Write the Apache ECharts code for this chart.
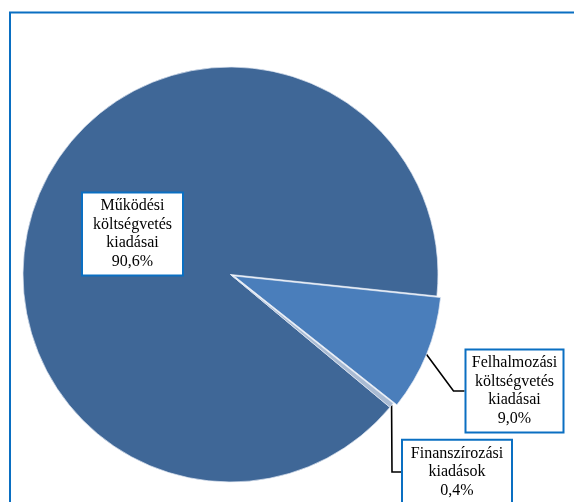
<!DOCTYPE html>
<html>
<head>
<meta charset="utf-8">
<script src="https://cdn.jsdelivr.net/npm/echarts@6/dist/echarts.min.js"></script>
<style>
html,body{margin:0;padding:0;background:#fff;}
#c{width:574px;height:502px;}
</style>
</head>
<body>
<div id="c"></div>
<script>
const categories = ['Működési\nköltségvetés\nkiadásai', 'Felhalmozási\nköltségvetés\nkiadásai', 'Finanszírozási\nkiadások'];
const values = [90.6, 9.0, 0.4];
const colors = ['#3F6797', '#4A7EBB', '#A9BBD3'];
const explodedIndex = 1;

const labelCenters = [[132.5, 234], [514.5, 391], [457, 472]];
const labelWidths = [91, 88, 100];

const chart = echarts.init(document.getElementById('c'), null, {renderer: 'canvas'});

const C = [230.5, 274.5], R = 207.5, START = 320.2, OFFSET = 4;
// mid angle of exploded slice (for explode offset)
const total = values.reduce((a, b) => a + b, 0);
let acc = 0;
for (let i = 0; i < explodedIndex; i++) acc += values[i];
const midDeg = START - (acc + values[explodedIndex] / 2) / total * 360;
const midRad = midDeg * Math.PI / 180;
const C2 = [C[0] + OFFSET * Math.cos(midRad), C[1] - OFFSET * Math.sin(midRad)];

function makeData(visibleFn) {
  return categories.map((name, i) => {
    const vis = visibleFn(i);
    return {
      name: name,
      value: values[i],
      itemStyle: vis ? {color: colors[i]} : {color: 'rgba(0,0,0,0)', borderWidth: 0},
      label: {show: vis, width: labelWidths[i]},
      labelLine: {show: vis && i !== 0, length: 10, length2: i === 1 ? 11 : 9}
    };
  });
}

const common = {
  type: 'pie',
  radius: [0, R],
  startAngle: START,
  clockwise: true,
  silent: true,
  emphasis: {disabled: true},
  itemStyle: {borderColor: 'rgba(225,232,242,0.9)', borderWidth: 0.8},
  label: {
    position: 'outside',
    formatter: p => p.name + '\n' + p.value.toFixed(1).replace('.', ',') + '%',
    fontFamily: '"Liberation Serif", "Times New Roman", serif',
    fontSize: 16,
    lineHeight: 18.5,
    color: '#000',
    align: 'center',
    overflow: 'none',
    backgroundColor: '#fff',
    borderColor: '#0A6FC2',
    borderWidth: 2,
    padding: [4, 4, 3, 4]
  },
  labelLine: {lineStyle: {color: '#000', width: 1.6}},
  labelLayout: function (params) {
    const c = labelCenters[params.dataIndex];
    return {x: c[0], y: c[1], align: 'center', verticalAlign: 'middle'};
  }
};

chart.setOption({
  animation: false,
  graphic: [{
    type: 'rect',
    shape: {x: 10, y: 12.5, width: 700, height: 600},
    style: {fill: 'none', stroke: '#0A6FC2', lineWidth: 2},
    silent: true
  }],
  series: [
    Object.assign({}, common, {center: C, data: makeData(i => i !== explodedIndex)}),
    Object.assign({}, common, {center: C2, data: makeData(i => i === explodedIndex)})
  ]
});
</script>
</body>
</html>
